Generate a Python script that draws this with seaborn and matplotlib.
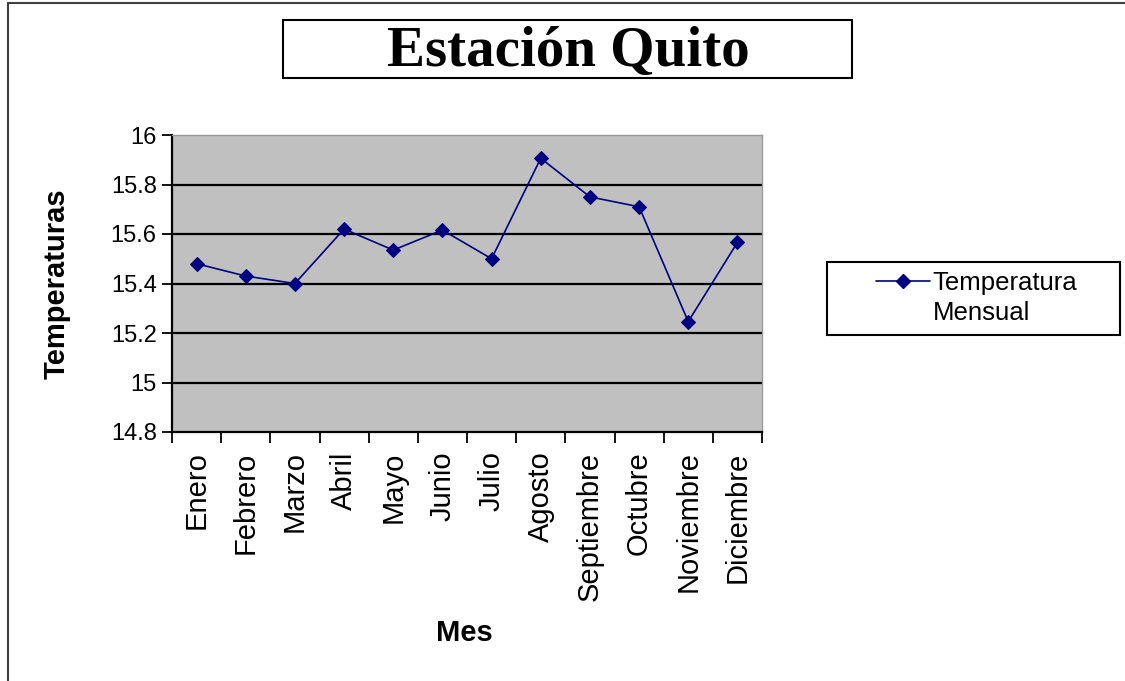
import matplotlib
matplotlib.use("Agg")
import matplotlib.pyplot as plt
import seaborn as sns
import pandas as pd
from matplotlib.patches import Rectangle
from matplotlib.lines import Line2D
from matplotlib.ticker import FixedLocator, NullFormatter

meses = ["Enero", "Febrero", "Marzo", "Abril", "Mayo", "Junio", "Julio",
         "Agosto", "Septiembre", "Octubre", "Noviembre", "Diciembre"]
temperatura = [15.48, 15.43, 15.40, 15.62, 15.535, 15.616, 15.50,
               15.906, 15.75, 15.71, 15.246, 15.566]
y_ticks = [14.8, 15.0, 15.2, 15.4, 15.6, 15.8, 16.0]
y_tick_labels = ["14.8", "15", "15.2", "15.4", "15.6", "15.8", "16"]

df = pd.DataFrame({"Mes": meses, "Temperatura": temperatura})

sns.set_theme(style="white")
plt.rcParams["font.family"] = ["Liberation Sans", "DejaVu Sans"]
plt.rcParams["text.color"] = "black"
plt.rcParams["axes.labelcolor"] = "black"
plt.rcParams["xtick.color"] = "black"
plt.rcParams["ytick.color"] = "black"

W, H = 1125, 681
fig = plt.figure(figsize=(W / 100, H / 100), dpi=100)
fig.patch.set_facecolor("white")

def fx(px):
    return px / W

def fy(py):
    return 1 - py / H

ax = fig.add_axes([fx(172), fy(432), fx(762) - fx(172), fy(135) - fy(432)])
ax.set_facecolor("#C0C0C0")

sns.lineplot(data=df, x="Mes", y="Temperatura", ax=ax, color="#000080",
             marker="D", markersize=7.5, markeredgecolor="#000080",
             linewidth=1.2, legend=False)

ax.set_xlim(-0.5, len(meses) - 0.5)
ax.set_ylim(14.8, 16.0)
ax.set_yticks(y_ticks)
ax.set_yticklabels(y_tick_labels)
for yv in y_ticks[1:-1]:
    ax.axhline(yv, color="black", linewidth=1.6, zorder=1)

ax.set_xticks(range(len(meses)))
ax.set_xticklabels(meses, rotation=90, fontsize=21)
ax.xaxis.set_minor_locator(FixedLocator([i - 0.5 for i in range(len(meses) + 1)]))
ax.xaxis.set_minor_formatter(NullFormatter())
ax.tick_params(axis="x", which="major", length=0, pad=14, labelcolor="black")
ax.tick_params(axis="x", which="minor", length=8, width=1.3, color="black",
               direction="out", bottom=True)
ax.tick_params(axis="y", which="major", length=7, width=1.3, color="black",
               direction="out", left=True, labelsize=17, pad=4, labelcolor="black")

for s in ["left", "bottom"]:
    ax.spines[s].set_color("black")
    ax.spines[s].set_linewidth(1.6)
for s in ["top", "right"]:
    ax.spines[s].set_color("#9a9a9a")
    ax.spines[s].set_linewidth(1.0)

ax.set_xlabel("Mes", fontsize=21, fontweight="bold", color="black")
ax.xaxis.label.set_va("center")
ax.xaxis.set_label_coords((464 - 172) / 590, (432 - 633) / 297)
ax.set_ylabel("Temperaturas", fontsize=21, fontweight="bold", color="black")
ax.yaxis.label.set_va("center")
ax.yaxis.set_label_coords((57 - 172) / 590, (432 - 284) / 297)

# Title box
fig.patches.append(Rectangle((fx(283), fy(78)), fx(852) - fx(283), fy(20) - fy(78),
                             transform=fig.transFigure, fill=False,
                             edgecolor="black", linewidth=1.5))
fig.text(fx(568), fy(66), "Estación Quito", ha="center", va="baseline",
         fontsize=41, fontweight="bold", color="black",
         family=["Liberation Serif", "DejaVu Serif"])

# Legend box
fig.patches.append(Rectangle((fx(827), fy(335)), fx(1120) - fx(827), fy(262) - fy(335),
                             transform=fig.transFigure, fill=False,
                             edgecolor="black", linewidth=1.5))
handle = Line2D([], [], color="#000080", marker="D", markersize=7.5, linewidth=1.2)
fig.legend([handle], ["Temperatura"], loc="center left",
           bbox_to_anchor=(fx(876), fy(283)), frameon=False, fontsize=18.5,
           handlelength=2.1, handletextpad=0.1, borderpad=0, borderaxespad=0,
           labelcolor="black")
fig.text(fx(933), fy(313), "Mensual", ha="left", va="center", fontsize=18.5,
         color="black")

# Outer chart border (left and top)
fig.lines.append(Line2D([fx(8), fx(8)], [fy(3), 0], transform=fig.transFigure,
                        color="#404040", linewidth=1.5))
fig.lines.append(Line2D([fx(8), 1], [fy(3), fy(3)], transform=fig.transFigure,
                        color="#404040", linewidth=1.5))

fig.savefig("out.png", dpi=100)
